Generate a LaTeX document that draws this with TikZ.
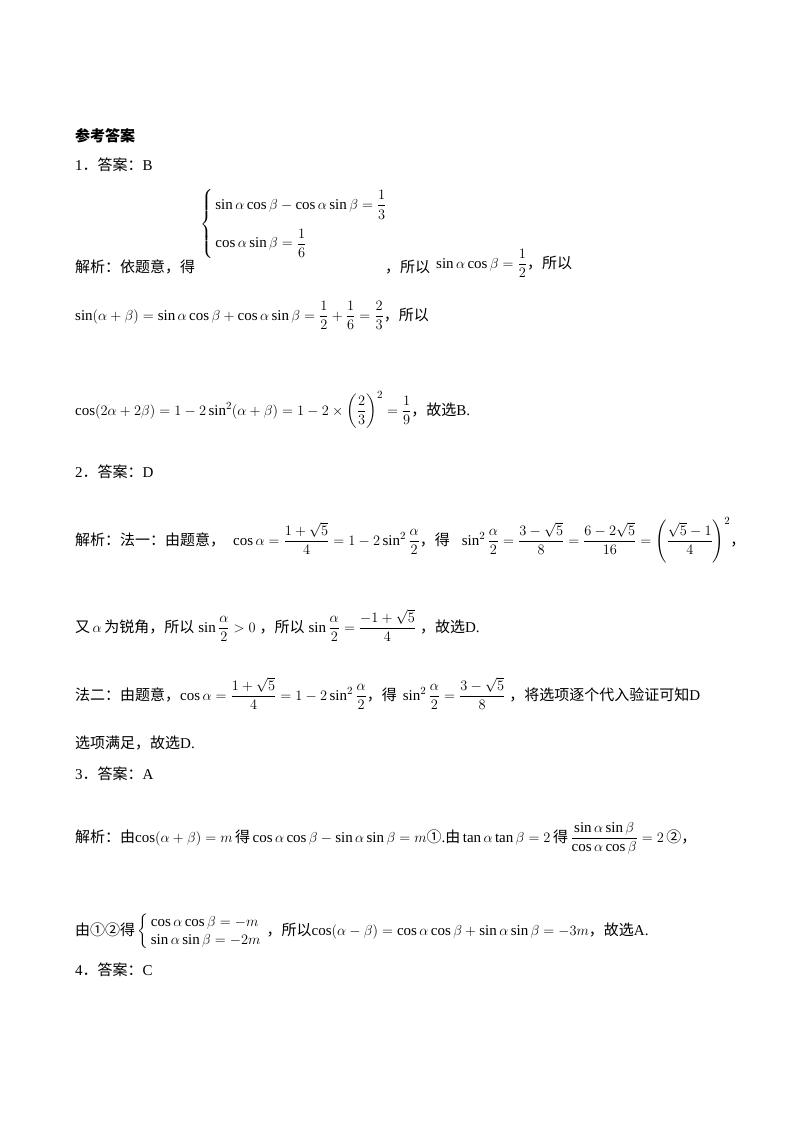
\documentclass[tikz,border=0pt]{standalone}
\usepackage{amsmath}
\usepackage{fontspec}
\setmainfont{Liberation Serif}
\newfontfamily\cjk{Noto Sans CJK SC}
\newcommand{\zh}[1]{{\cjk #1}}
\begin{document}
\begin{tikzpicture}[x=1pt,y=-1pt,
  line/.style={anchor=base west,inner sep=0pt,font=\fontsize{15}{18}\selectfont}]
\useasboundingbox (0,0) rectangle (800,1132);
\node[line] (t) at (75,141) {\zh{\bfseries 参考答案}};
\node[line] (a1) at (75,170) {1\zh{．答案：}B};
\node[line] (s1) at (75,272) {\zh{解析：依题意，得}};
\node[line,anchor=west] (c1) at (200,224) {$\left\{\begin{array}{@{\,}l}\sin\alpha\cos\beta-\cos\alpha\sin\beta=\dfrac13\\[14pt] \cos\alpha\sin\beta=\dfrac16\end{array}\right.$};
\node[line] (s1b) at (385,272) {\zh{，所以}};
\node[line] (s1c) at (436,268) {$\sin\alpha\cos\beta=\dfrac12$\zh{，所以}};
\node[line] (l2) at (75,320) {$\sin(\alpha+\beta)=\sin\alpha\cos\beta+\cos\alpha\sin\beta=\dfrac12+\dfrac16=\dfrac23$\zh{，所以}};
\node[line] (l3) at (75,415) {$\cos(2\alpha+2\beta)=1-2\sin^2(\alpha+\beta)=1-2\times\left(\dfrac23\right)^2=\dfrac19$\zh{，故选}B.};
\node[line] (a2) at (75,477) {2\zh{．答案：}D};
\node[line] (l4) at (75,545) {\zh{解析：法一：由题意，}\hspace{8pt}$\cos\alpha=\dfrac{1+\sqrt5}{4}=1-2\sin^2\dfrac{\alpha}{2}$\zh{，得}\hspace{12pt}$\sin^2\dfrac{\alpha}{2}=\dfrac{3-\sqrt5}{8}=\dfrac{6-2\sqrt5}{16}=\left(\dfrac{\sqrt5-1}{4}\right)^2$\zh{，}};
\node[line] (l5) at (75,632) {\zh{又}\,$\alpha$\,\zh{为锐角，所以}\hspace{4pt}$\sin\dfrac{\alpha}{2}>0$\hspace{4pt}\zh{，所以}\hspace{4pt}$\sin\dfrac{\alpha}{2}=\dfrac{-1+\sqrt5}{4}$\hspace{4pt}\zh{，故选}D.};
\node[line] (l6) at (75,700) {\zh{法二：由题意，}$\cos\alpha=\dfrac{1+\sqrt5}{4}=1-2\sin^2\dfrac{\alpha}{2}$\zh{，得}\hspace{6pt}$\sin^2\dfrac{\alpha}{2}=\dfrac{3-\sqrt5}{8}$\hspace{4pt}\zh{，将选项逐个代入验证可知}D};
\node[line] (l7) at (75,748) {\zh{选项满足，故选}D.};
\node[line] (a3) at (75,779) {3\zh{．答案：}A};
\node[line] (l8) at (75,842) {\zh{解析：由}$\cos(\alpha+\beta)=m$\,\zh{得}\,$\cos\alpha\cos\beta-\sin\alpha\sin\beta=m$\zh{①}.\zh{由}\,$\tan\alpha\tan\beta=2$\,\zh{得}\,$\dfrac{\sin\alpha\sin\beta}{\cos\alpha\cos\beta}=2$\,\zh{②，}};
\node[line] (l9) at (75,935) {\zh{由①②得}\,$\left\{\begin{array}{@{\,}l}\cos\alpha\cos\beta=-m\\ \sin\alpha\sin\beta=-2m\end{array}\right.$\zh{，所以}$\cos(\alpha-\beta)=\cos\alpha\cos\beta+\sin\alpha\sin\beta=-3m$\zh{，故选}A.};
\node[line] (a4) at (75,975) {4\zh{．答案：}C};
\end{tikzpicture}
\end{document}
